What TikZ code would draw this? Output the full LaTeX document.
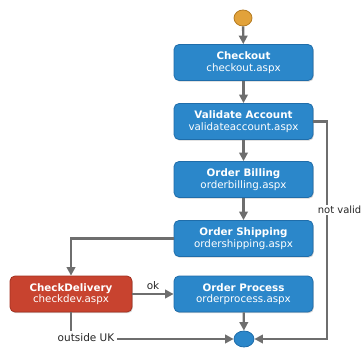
\documentclass[tikz,border=0pt]{standalone}
\usepackage{fontspec}
\setmainfont{DejaVu Sans}
\usetikzlibrary{arrows.meta,shadows,shapes.geometric}
\definecolor{boxblue}{HTML}{2B87CA}
\definecolor{boxblueb}{HTML}{1F6DAA}
\definecolor{boxred}{HTML}{C8432F}
\definecolor{boxredb}{HTML}{A3301F}
\definecolor{linegray}{HTML}{6E6E6E}
\definecolor{startor}{HTML}{E2A23A}
\definecolor{startorb}{HTML}{B47B22}
\tikzset{
  pagebox/.style={rectangle, rounded corners=5pt, draw=boxblueb, line width=0.8pt, fill=boxblue,
    minimum width=139pt, minimum height=36pt, inner sep=0pt, align=center, text=white,
    font=\fontsize{10.3}{11.5}\selectfont, drop shadow={shadow xshift=0.8pt, shadow yshift=-1.2pt, opacity=0.35}},
  redbox/.style={pagebox, fill=boxred, draw=boxredb, minimum width=122pt},
  conn/.style={draw=linegray, line width=2.3pt, -{Triangle[length=8.5pt,width=8.5pt]}},
  lbl/.style={font=\fontsize{10.5}{12}\selectfont, text=black!85, inner sep=1pt},
}
\begin{document}
\begin{tikzpicture}[x=1pt,y=-1pt]
\useasboundingbox (0,0) rectangle (363,347);
\node[ellipse, fill=startor, draw=startorb, line width=0.8pt, minimum width=18pt, minimum height=16pt, inner sep=0pt] (start) at (243,18) {};
\node[pagebox] (checkout) at (243.5,62.5) {\textbf{Checkout}\\checkout.aspx};
\node[pagebox] (validate) at (243.5,121.5) {\textbf{Validate Account}\\validateaccount.aspx};
\node[pagebox] (billing) at (243.5,179.5) {\textbf{Order Billing}\\orderbilling.aspx};
\node[pagebox] (shipping) at (243.5,238.5) {\textbf{Order Shipping}\\ordershipping.aspx};
\node[redbox] (checkdev) at (71,294) {\textbf{CheckDelivery}\\checkdev.aspx};
\node[pagebox] (process) at (243.5,294) {\textbf{Order Process}\\orderprocess.aspx};
\node[ellipse, fill=boxblue, draw=boxblueb, line width=0.8pt, minimum width=20pt, minimum height=16pt, inner sep=0pt] (end) at (244,339) {};
\coordinate (rt) at (327,121.5);
\coordinate (rb) at (327,339);
\coordinate (lb) at (71,339);
\draw[conn] (start) -- (checkout);
\draw[conn] (checkout) -- (validate);
\draw[conn] (validate) -- (billing);
\draw[conn] (billing) -- (shipping);
\draw[conn] (shipping.west) -| (checkdev.north);
\draw[conn] (checkdev.east) -- node[lbl, above=2pt] {ok} (process.west);
\draw[conn] (process) -- (end);
\draw[conn] (validate.east) -- (rt) -- (rb) -- (end.east);
\draw[conn] (checkdev.south) -- (lb) -- (end.west);
\node[lbl, fill=white, inner sep=3pt] (outuk) at (86,338) {outside UK};
\node[lbl, anchor=east, fill=white, inner sep=1pt, font=\fontsize{10}{11}\selectfont] (notvalid) at (362.5,210) {not valid};
\end{tikzpicture}
\end{document}
